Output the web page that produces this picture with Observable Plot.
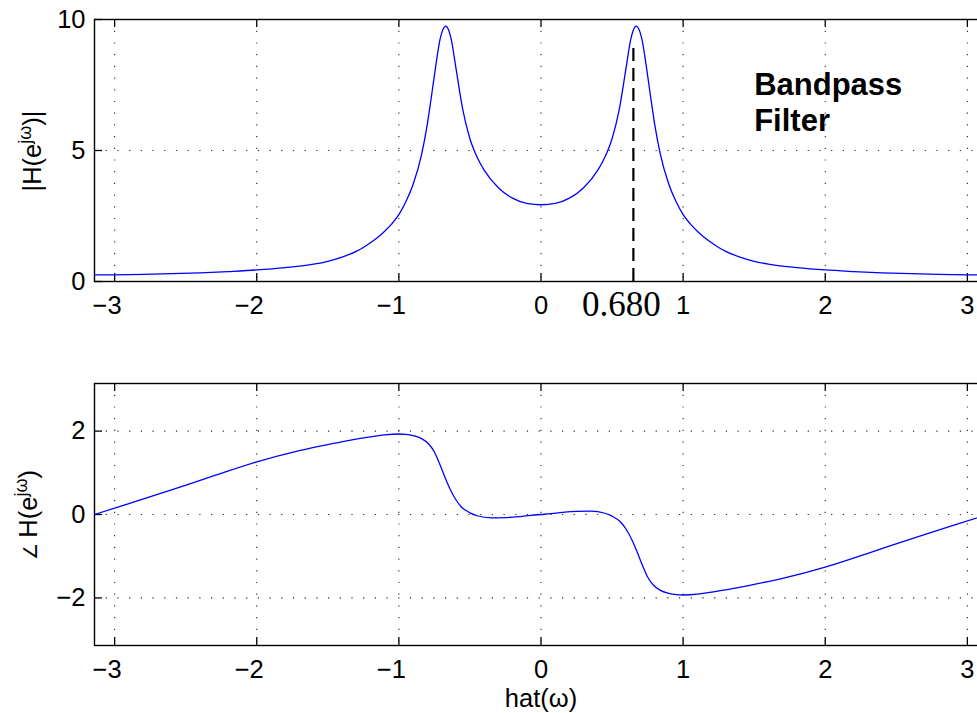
<!DOCTYPE html>
<html><head><meta charset="utf-8">
<script src="https://cdn.jsdelivr.net/npm/d3@7"></script>
<script src="https://cdn.jsdelivr.net/npm/@observablehq/plot@0.6"></script>
<style>
html,body{margin:0;padding:0;background:#fff;overflow:hidden}
#chart svg{display:block}
</style></head><body><div id="chart"></div>
<script>
// ---- data ----
const magOmega = [-3.1416,-3.0,-2.8,-2.6,-2.4,-2.2,-2.0,-1.8,-1.6,-1.5,-1.4,-1.3,-1.25,-1.2,-1.15,-1.1,-1.05,-1.0,-0.95,-0.9,-0.84,-0.8,-0.77,-0.74,-0.71,-0.69,-0.67,-0.65,-0.63,-0.6,-0.55,-0.5,-0.45,-0.4,-0.3,-0.2,-0.1,
  0,0.1,0.2,0.3,0.4,0.45,0.5,0.55,0.6,0.63,0.65,0.67,0.69,0.71,0.74,0.77,0.8,0.84,0.9,0.95,1.0,1.05,1.1,1.15,1.2,1.25,1.3,1.4,1.5,1.6,1.8,2.0,2.2,2.4,2.6,2.8,3.0,3.1416];
const magValues = [0.25,0.255,0.27,0.3,0.33,0.38,0.44,0.53,0.66,0.77,0.93,1.15,1.3,1.48,1.68,1.92,2.2,2.55,3.05,3.7,4.85,6.0,7.1,8.25,9.25,9.62,9.75,9.6,9.2,8.2,6.55,5.45,4.75,4.25,3.58,3.18,2.98,
  2.93,2.98,3.18,3.58,4.25,4.75,5.45,6.55,8.2,9.2,9.6,9.75,9.62,9.25,8.25,7.1,6.0,4.85,3.7,3.05,2.55,2.2,1.92,1.68,1.48,1.3,1.15,0.93,0.77,0.66,0.53,0.44,0.38,0.33,0.3,0.27,0.255,0.25];

const phaseOmega = [-3.1416,-2.9,-2.6,-2.3,-2.0,-1.7,-1.45,-1.3,-1.2,-1.1,-1.0,-0.95,-0.9,-0.84,-0.79,-0.75,-0.72,-0.68,-0.64,-0.6,-0.56,-0.5,-0.45,-0.35,-0.25,-0.15,-0.07,
  0,0.07,0.15,0.25,0.35,0.45,0.5,0.56,0.6,0.64,0.68,0.72,0.75,0.79,0.84,0.9,0.95,1.0,1.1,1.2,1.3,1.45,1.7,2.0,2.3,2.6,2.9,3.1416];
const phaseValues = [0,0.26,0.59,0.93,1.26,1.53,1.71,1.81,1.86,1.91,1.93,1.92,1.89,1.82,1.69,1.5,1.27,0.93,0.61,0.36,0.18,0.04,-0.03,-0.08,-0.075,-0.05,-0.02,
  0,0.02,0.05,0.075,0.08,0.03,-0.04,-0.18,-0.36,-0.61,-0.93,-1.27,-1.5,-1.69,-1.82,-1.89,-1.92,-1.93,-1.91,-1.86,-1.81,-1.71,-1.53,-1.26,-0.93,-0.59,-0.26,0];

const xTicks = [-3,-2,-1,0,1,2,3];
const magTicks = [0,5,10];
const phaseTicks = [-2,0,2];
const markerOmega = [0.65];
const markerTop = [8.9];
const markerLabel = ["0.680"];
const markerLabelOmega = [0.566];
const noteText = ["Bandpass\nFilter"];
const noteOmega = [1.5];
const noteMag = [8.12];
const xLabel = "hat(ω)";

// ---- tables ----
const magData = magOmega.map((w, i) => ({w, v: magValues[i]}));
const phaseData = phaseOmega.map((w, i) => ({w, v: phaseValues[i]}));
const markerData = markerOmega.map((w, i) => ({w, top: markerTop[i]}));
const markerLabelData = markerLabel.map((t, i) => ({w: markerLabelOmega[i], t}));
const noteData = noteText.map((t, i) => ({w: noteOmega[i], v: noteMag[i], t}));

const W = 977, ML = 94, MR = -10;
const font = "'Liberation Sans', Arial, Helvetica, sans-serif";
const FS = 25.5;
const fmt = d => d < 0 ? "\u2212" + (-d) : String(d);

function panel({height, marginTop, marginBottom, yDomain, yTicks, data, extra = []}) {
  const plotH = height - marginTop - marginBottom;
  const plotW = W - ML - MR;
  return Plot.plot({
    width: W, height, marginLeft: ML, marginRight: MR, marginTop, marginBottom,
    style: {fontFamily: font, fontSize: FS + "px", background: "#fff", color: "#000", overflow: "hidden"},
    x: {domain: [-Math.PI, Math.PI], axis: null},
    y: {domain: yDomain, axis: null},
    marks: [
      Plot.ruleX(xTicks, {x: d => d, stroke: "#000", strokeOpacity: 0.85, strokeWidth: 1.1, strokeDasharray: "1.2,10.5"}),
      Plot.ruleY(yTicks, {y: d => d, stroke: "#000", strokeOpacity: 0.85, strokeWidth: 1.1, strokeDasharray: "1.2,10.5"}),
      Plot.ruleX(xTicks, {x: d => d, insetTop: plotH - 8, stroke: "#000", strokeWidth: 1.3}),
      Plot.ruleX(xTicks, {x: d => d, insetBottom: plotH - 8, stroke: "#000", strokeWidth: 1.3}),
      Plot.ruleY(yTicks, {y: d => d, insetRight: plotW - 8, stroke: "#000", strokeWidth: 1.3}),
      Plot.frame({stroke: "#000", strokeWidth: 1.4}),
      Plot.line(data, {x: "w", y: "v", stroke: "#0000ff", strokeWidth: 1.3, curve: "monotone-x"}),
      Plot.text(xTicks.filter(d => d >= 0), {x: d => d, frameAnchor: "bottom", lineAnchor: "middle", dy: 24, text: fmt, fontSize: FS, fill: "#000"}),
      Plot.text(xTicks.filter(d => d < 0), {x: d => d, frameAnchor: "bottom", lineAnchor: "middle", dy: 24, dx: 7, textAnchor: "end", text: fmt, fontSize: FS, fill: "#000"}),
      Plot.text(yTicks, {y: d => d, frameAnchor: "left", lineAnchor: "middle", dx: -9, textAnchor: "end", text: fmt, fontSize: FS, fill: "#000"}),
      ...extra
    ]
  });
}

const magChart = panel({
  height: 335, marginTop: 19, marginBottom: 54, yDomain: [0, 10], yTicks: magTicks, data: magData,
  extra: [
    Plot.ruleX(markerData, {x: "w", y1: 0, y2: "top", stroke: "#000", strokeWidth: 2.2, strokeDasharray: "13,7"}),
    Plot.text(markerLabelData, {x: "w", frameAnchor: "bottom", lineAnchor: "middle", dy: 23, text: "t", fontFamily: "'Liberation Serif', 'Times New Roman', serif", fontSize: 35, fill: "#000"}),
    Plot.text(noteData, {x: "w", y: "v", text: "t", textAnchor: "start", lineAnchor: "top", lineHeight: 1.17, fontWeight: "bold", fontSize: 31, fill: "#000"})
  ]
});

const phaseChart = panel({
  height: 378, marginTop: 48, marginBottom: 68, yDomain: [-Math.PI, Math.PI], yTicks: phaseTicks, data: phaseData,
  extra: [
    Plot.text([xLabel], {frameAnchor: "bottom", lineAnchor: "middle", dy: 53, text: d => d, fontSize: FS, fill: "#000"})
  ]
});

const chart = document.getElementById("chart");
chart.appendChild(magChart);
chart.appendChild(phaseChart);

// y labels with superscripts
function yLabel(svg, x, y, parts) {
  const t = d3.select(svg).append("text")
    .attr("transform", `translate(${x},${y}) rotate(-90)`)
    .attr("text-anchor", "middle")
    .attr("font-family", font)
    .attr("font-size", FS)
    .attr("fill", "#000");
  for (const p of parts) {
    const s = t.append("tspan").text(p.t);
    if (p.size) s.attr("font-size", p.size);
    if (p.dy) s.attr("dy", p.dy);
  }
}
yLabel(magChart, 40.5, 151, [{t: "|H(e"}, {t: "jω", size: 18, dy: -10}, {t: ")|", dy: 10}]);
yLabel(phaseChart, 37, 180, [{t: "∠ ", size: 19}, {t: "H(e"}, {t: "jω", size: 18, dy: -10}, {t: ")", dy: 10}]);
</script></body></html>
